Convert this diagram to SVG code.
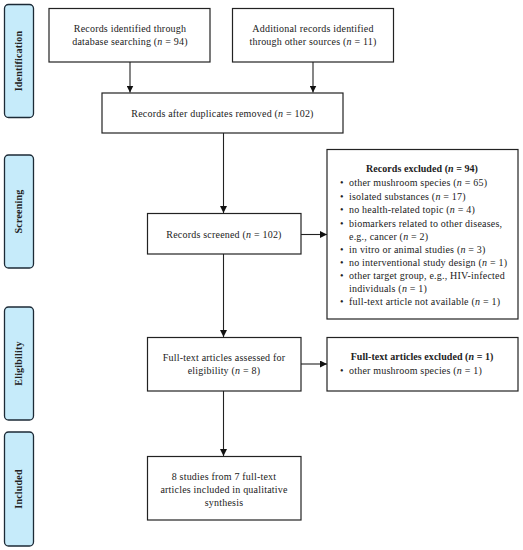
<svg xmlns="http://www.w3.org/2000/svg" width="523" height="550" viewBox="0 0 523 550">
<style>
.box{fill:#fff;stroke:#222;stroke-width:1.2}
.side{fill:#c6ebfa;stroke:#1c2a36;stroke-width:1.3}
.t{font-family:"Liberation Serif","DejaVu Serif",serif;font-size:10px;letter-spacing:0.2px;fill:#222}
.c{text-anchor:middle}
.b{font-weight:bold;letter-spacing:0.05px}
.sl{font-family:"Liberation Serif","DejaVu Serif",serif;font-size:10px;letter-spacing:0.2px;font-weight:bold;fill:#222;text-anchor:middle}
.ln{stroke:#222;stroke-width:1.1;fill:none}
</style>
<defs>
<marker id="ah" viewBox="0 0 10 10" refX="10" refY="5" markerWidth="7" markerHeight="7" markerUnits="userSpaceOnUse" orient="auto">
<path d="M0,0 L10,5 L0,10 z" fill="#111"/>
</marker>
</defs>
<rect width="523" height="550" fill="#fff"/>

<g id="side-identification"><rect class="side" x="4.5" y="4.5" width="29" height="113" rx="4"/><text class="sl" transform="translate(22,61) rotate(-90)">Identification</text></g>
<g id="side-screening"><rect class="side" x="4.5" y="155" width="29" height="113" rx="4"/><text class="sl" transform="translate(22,211.5) rotate(-90)">Screening</text></g>
<g id="side-eligibility"><rect class="side" x="4.5" y="307" width="29" height="113" rx="4"/><text class="sl" transform="translate(22,363.5) rotate(-90)">Eligibility</text></g>
<g id="side-included"><rect class="side" x="4.5" y="432" width="29" height="114" rx="4"/><text class="sl" transform="translate(22,489) rotate(-90)">Included</text></g>

<g id="connectors">
<line class="ln" x1="130" y1="62" x2="130" y2="92.5" marker-end="url(#ah)"/>
<line class="ln" x1="313" y1="62" x2="313" y2="92.5" marker-end="url(#ah)"/>
<line class="ln" x1="223.5" y1="133" x2="223.5" y2="213" marker-end="url(#ah)"/>
<line class="ln" x1="301" y1="234.5" x2="327" y2="234.5" marker-end="url(#ah)"/>
<line class="ln" x1="223.5" y1="254" x2="223.5" y2="337" marker-end="url(#ah)"/>
<line class="ln" x1="301" y1="364" x2="327" y2="364" marker-end="url(#ah)"/>
<line class="ln" x1="223.5" y1="391" x2="223.5" y2="456" marker-end="url(#ah)"/>
</g>

<g id="n-database">
<rect class="box" x="49" y="8.5" width="161" height="53.5"/>
<text class="t c" x="130" y="32">Records identified through</text>
<text class="t c" x="130" y="45">database searching (<tspan font-style="italic">n</tspan> = 94)</text>
</g>
<g id="n-other">
<rect class="box" x="232.5" y="8.5" width="161" height="53.5"/>
<text class="t c" x="313" y="32">Additional records identified</text>
<text class="t c" x="313" y="45">through other sources (<tspan font-style="italic">n</tspan> = 11)</text>
</g>
<g id="n-duplicates">
<rect class="box" x="102" y="93" width="241" height="40"/>
<text class="t c" x="222.5" y="117">Records after duplicates removed (<tspan font-style="italic">n</tspan> = 102)</text>
</g>
<g id="n-screened">
<rect class="box" x="147.5" y="213.5" width="153.5" height="40.5"/>
<text class="t c" x="224" y="237.5">Records screened (<tspan font-style="italic">n</tspan> = 102)</text>
</g>
<g id="n-excluded">
<rect class="box" x="327" y="149.5" width="191" height="169.5"/>
<text class="t c b" x="422" y="172">Records excluded (<tspan font-style="italic">n</tspan> = 94)</text>
<text class="t" x="340" y="186">•</text><text class="t" x="349" y="186">other mushroom species (<tspan font-style="italic">n</tspan> = 65)</text>
<text class="t" x="340" y="199.5">•</text><text class="t" x="349" y="199.5">isolated substances (<tspan font-style="italic">n</tspan> = 17)</text>
<text class="t" x="340" y="213">•</text><text class="t" x="349" y="213">no health-related topic (<tspan font-style="italic">n</tspan> = 4)</text>
<text class="t" x="340" y="226.5">•</text><text class="t" x="349" y="226.5">biomarkers related to other diseases,</text>
<text class="t" x="349" y="239.5">e.g., cancer (<tspan font-style="italic">n</tspan> = 2)</text>
<text class="t" x="340" y="252.5">•</text><text class="t" x="349" y="252.5">in vitro or animal studies (<tspan font-style="italic">n</tspan> = 3)</text>
<text class="t" x="340" y="265.5">•</text><text class="t" x="349" y="265.5">no interventional study design (<tspan font-style="italic">n</tspan> = 1)</text>
<text class="t" x="340" y="279">•</text><text class="t" x="349" y="279">other target group, e.g., HIV-infected</text>
<text class="t" x="349" y="292">individuals (<tspan font-style="italic">n</tspan> = 1)</text>
<text class="t" x="340" y="305">•</text><text class="t" x="349" y="305">full-text article not available (<tspan font-style="italic">n</tspan> = 1)</text>
</g>
<g id="n-assessed">
<rect class="box" x="147.5" y="337.5" width="153.5" height="53.5"/>
<text class="t c" x="224" y="361">Full-text articles assessed for</text>
<text class="t c" x="224" y="374">eligibility (<tspan font-style="italic">n</tspan> = 8)</text>
</g>
<g id="n-ftexcluded">
<rect class="box" x="327" y="337.5" width="191" height="53.5"/>
<text class="t c b" x="422" y="360">Full-text articles excluded (<tspan font-style="italic">n</tspan> = 1)</text>
<text class="t" x="340" y="374">•</text><text class="t" x="349" y="374">other mushroom species (<tspan font-style="italic">n</tspan> = 1)</text>
</g>
<g id="n-included">
<rect class="box" x="147.5" y="456.5" width="153.5" height="63.5"/>
<text class="t c" x="224" y="480">8 studies from 7 full-text</text>
<text class="t c" x="224" y="493">articles included in qualitative</text>
<text class="t c" x="224" y="505.5">synthesis</text>
</g>
</svg>
